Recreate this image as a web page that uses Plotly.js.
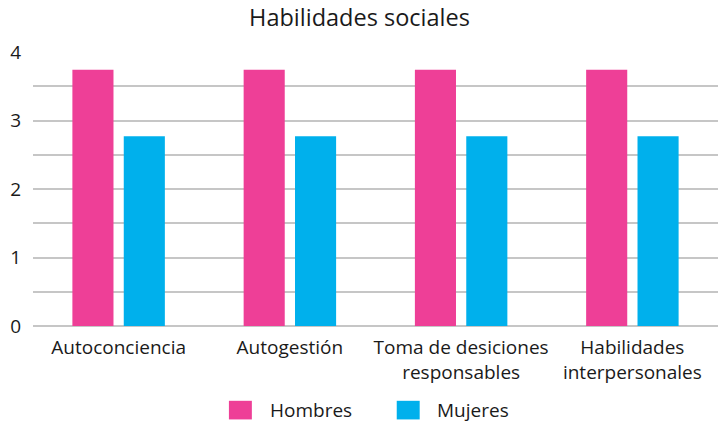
<!DOCTYPE html>
<html><head><meta charset="utf-8">
<script src="https://cdn.plot.ly/plotly-3.0.1.min.js"></script>
<style>html,body{margin:0;padding:0;background:#fff}</style>
</head><body>
<div id="chart" style="width:719px;height:424px"></div>
<script>
const categories = ["Autoconciencia", "Autogestión", "Toma de desiciones<br>responsables", "Habilidades<br>interpersonales"];
const seriesNames = ["Hombres", "Mujeres"];
const seriesColors = ["#ee3f97", "#00b0ec"];
const hombres = [3.74, 3.74, 3.74, 3.74];
const mujeres = [2.77, 2.77, 2.77, 2.77];

const font = "Open Sans, Noto Sans, sans-serif";
const txt = "#1a1a1a";
const data = [
  {type: "bar", name: seriesNames[0], x: categories, y: hombres, marker: {color: seriesColors[0]}, showlegend: false},
  {type: "bar", name: seriesNames[1], x: categories, y: mujeres, marker: {color: seriesColors[1]}, showlegend: false}
];

// manual legend (larger swatches like the reference), in paper coordinates
const legX = [0.286, 0.531];      // swatch left edges
const swW = 0.0335, swTop = -0.273, swBot = -0.341;
const shapes = [], annotations = [];
seriesNames.forEach((n, i) => {
  shapes.push({type: "rect", xref: "paper", yref: "paper", x0: legX[i], x1: legX[i] + swW,
               y0: swBot, y1: swTop, fillcolor: seriesColors[i], line: {width: 0}});
  annotations.push({xref: "paper", yref: "paper", x: legX[i] + swW + 0.023, y: (swTop + swBot) / 2,
                    xanchor: "left", yanchor: "middle", text: n, showarrow: false,
                    font: {family: font, size: 19, color: txt}});
});

const layout = {
  width: 719, height: 424,
  margin: {l: 33, r: 1, t: 52, b: 98},
  paper_bgcolor: "#fff", plot_bgcolor: "#fff",
  font: {family: font, size: 19, color: txt},
  title: {text: "Habilidades sociales", x: 0.5, xanchor: "center", y: 0.958, yanchor: "middle", font: {size: 23.5, color: txt}},
  barmode: "group", bargap: 0.40, bargroupgap: 0.2,
  xaxis: {showgrid: false, zeroline: false, showline: false, ticks: "", tickfont: {size: 19}, ticklabelstandoff: 8},
  yaxis: {range: [0, 4], dtick: 1, showgrid: true, gridcolor: "#c6c6c6", gridwidth: 2,
          zeroline: true, zerolinecolor: "#c6c6c6", zerolinewidth: 2, ticks: "", ticklabelstandoff: 11,
          minor: {dtick: 0.5, showgrid: true, gridcolor: "#c6c6c6", gridwidth: 2},
          tickfont: {size: 19}, fixedrange: true},
  shapes: shapes, annotations: annotations,
  showlegend: false
};
Plotly.newPlot("chart", data, layout, {displayModeBar: false, staticPlot: true});
</script>
</body></html>
